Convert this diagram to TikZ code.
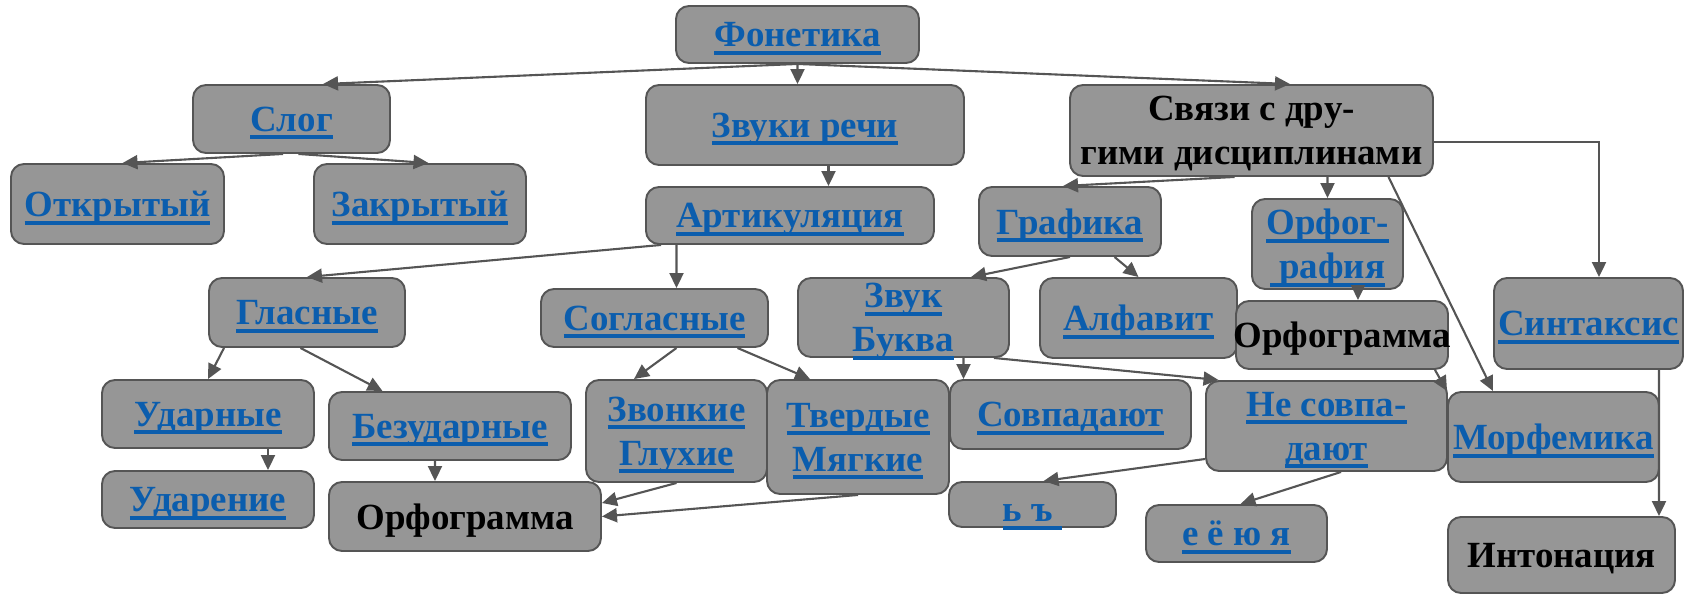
\documentclass[tikz,border=0pt]{standalone}
\usepackage{fontspec}
\setmainfont{Liberation Serif}
\usetikzlibrary{arrows.meta}

\definecolor{boxgray}{RGB}{150,150,150}
\definecolor{edgegray}{RGB}{85,85,85}
\definecolor{linkblue}{RGB}{11,93,173}

% underlined link text, depth hidden so boxes centre on the letters
\newcommand{\linku}[1]{\setbox0=\hbox{#1}%
  \raisebox{0pt}[\height][0pt]{\rlap{\rule[-0.22em]{\wd0}{0.11em}}\copy0}}
\newcommand{\plaintxt}[1]{\raisebox{0pt}[\height][0pt]{#1}}

\tikzset{
    topic/.style={rectangle, rounded corners=0.26cm, fill=boxgray, draw=edgegray,
        line width=1.1pt, inner sep=0pt, align=center,
        font=\fontsize{21}{25}\selectfont\bfseries},
    link/.style={topic, text=linkblue},
    term/.style={topic, text=black},
    conn/.style={draw=edgegray, line width=1.2pt, -{Triangle[length=0.3cm, width=0.28cm]}}
}

\begin{document}
\begin{tikzpicture}
        \useasboundingbox (0,0) rectangle (33.9,-11.9);

        % Top
        \node[link, minimum width=4.86cm, minimum height=1.14cm] (fon) at (15.95,-0.69) {\linku{Фонетика}};

        % Second row
        \node[link, minimum width=3.94cm, minimum height=1.36cm] (slog) at (5.83,-2.38) {\linku{Слог}};
        \node[link, minimum width=6.36cm, minimum height=1.60cm] (zvr) at (16.10,-2.50) {\linku{Звуки речи}};
        \node[term, minimum width=7.26cm, minimum height=1.82cm] (svz) at (25.03,-2.61)
            {\plaintxt{Связи с дру-}\\\plaintxt{гими дисциплинами}};

        % Third row
        \node[link, minimum width=4.26cm, minimum height=1.60cm] (otkr) at (2.35,-4.08) {\linku{Открытый}};
        \node[link, minimum width=4.24cm, minimum height=1.60cm] (zakr) at (8.40,-4.08) {\linku{Закрытый}};
        \node[link, minimum width=5.76cm, minimum height=1.14cm] (art) at (15.80,-4.31) {\linku{Артикуляция}};
        \node[link, minimum width=3.64cm, minimum height=1.38cm] (graf) at (21.40,-4.43) {\linku{Графика}};
        \node[link, minimum width=3.02cm, minimum height=1.80cm] (orfg) at (26.55,-4.88)
            {\linku{Орфог-}\\\linku{\ рафия}};

        % Fourth row
        \node[link, minimum width=3.92cm, minimum height=1.38cm] (glas) at (6.14,-6.25) {\linku{Гласные}};
        \node[link, minimum width=4.54cm, minimum height=1.16cm] (sogl) at (13.09,-6.36) {\linku{Согласные}};
        \node[link, minimum width=4.22cm, minimum height=1.58cm] (zbuk) at (18.07,-6.35)
            {\linku{Звук}\\\linku{Буква}};
        \node[link, minimum width=3.94cm, minimum height=1.60cm] (alf) at (22.77,-6.36) {\linku{Алфавит}};
        \node[term, minimum width=4.24cm, minimum height=1.36cm] (orfm2) at (26.84,-6.70)
            {\makebox[0pt]{\plaintxt{Орфограмма}}};
        \node[link, minimum width=3.78cm, minimum height=1.82cm] (sint) at (31.77,-6.47) {\linku{Синтаксис}};

        % Fifth row
        \node[link, minimum width=4.24cm, minimum height=1.36cm] (udar) at (4.16,-8.28) {\linku{Ударные}};
        \node[link, minimum width=4.84cm, minimum height=1.36cm] (bezud) at (9.00,-8.52) {\linku{Безударные}};
        \node[link, minimum width=3.62cm, minimum height=2.04cm] (zvon) at (13.53,-8.62)
            {\linku{Звонкие}\\\linku{Глухие}};
        \node[link, minimum width=3.64cm, minimum height=2.28cm] (tverd) at (17.16,-8.74)
            {\linku{Твердые}\\\linku{Мягкие}};
        \node[link, minimum width=4.82cm, minimum height=1.38cm] (sovp) at (21.41,-8.29) {\linku{Совпадают}};
        \node[link, minimum width=4.82cm, minimum height=1.80cm] (nesovp) at (26.53,-8.52)
            {\linku{Не совпа-}\\\linku{дают}};
        \node[link, minimum width=4.22cm, minimum height=1.80cm] (morf) at (31.07,-8.74) {\linku{Морфемика}};

        % Bottom row
        \node[link, minimum width=4.24cm, minimum height=1.14cm] (udaren) at (4.16,-9.99) {\linku{Ударение}};
        \node[term, minimum width=5.44cm, minimum height=1.38cm] (orfm1) at (9.30,-10.33) {\plaintxt{Орфограмма}};
        \node[link, minimum width=3.34cm, minimum height=0.90cm] (mzn) at (20.65,-10.09)
            {\raisebox{-0.18cm}[\height][\depth]{\linku{ь ъ~}}};
        \node[link, minimum width=3.62cm, minimum height=1.14cm] (eeyu) at (24.73,-10.67) {\linku{е ё ю я}};
        \node[term, minimum width=4.54cm, minimum height=1.52cm] (inton) at (31.23,-11.10) {\plaintxt{Интонация}};

        % Connectors
        \draw[conn] (fon.south) -- ([xshift=0.63cm]slog.north);
        \draw[conn] (fon.south) -- ([xshift=-0.15cm]zvr.north);
        \draw[conn] (fon.south) -- ([xshift=0.77cm]svz.north);
        \draw[conn] ([xshift=-0.17cm]slog.south) -- ([xshift=0.10cm]otkr.north);
        \draw[conn] ([xshift=0.14cm]slog.south) -- ([xshift=0.17cm]zakr.north);
        \draw[conn] ([xshift=0.47cm]zvr.south) -- ([xshift=0.77cm]art.north);
        \draw[conn] ([xshift=-2.58cm]art.south) -- (glas.north);
        \draw[conn] ([xshift=-2.27cm]art.south) -- ([xshift=0.44cm]sogl.north);
        \draw[conn] ([xshift=-0.34cm]svz.south) -- ([xshift=-0.14cm]graf.north);
        \draw[conn] ([xshift=1.52cm]svz.south) -- (orfg.north);
        \draw[conn] ([xshift=2.74cm]svz.south) -- ([xshift=-1.21cm]morf.north);
        \draw[conn] ([yshift=-0.23cm]svz.east) -| ([xshift=0.21cm]sint.north);
        \draw[conn] (graf.south) -- ([xshift=1.35cm]zbuk.north);
        \draw[conn] ([xshift=0.89cm]graf.south) -- (alf.north);
        \draw[conn] ([xshift=0.61cm]orfg.south) -- ([xshift=0.32cm]orfm2.north);
        \draw[conn] ([xshift=-1.66cm]glas.south) -- (udar.north);
        \draw[conn] ([xshift=-0.13cm]glas.south) -- ([xshift=-1.35cm]bezud.north);
        \draw[conn] ([xshift=0.44cm]sogl.south) -- ([xshift=-0.85cm]zvon.north);
        \draw[conn] ([xshift=1.66cm]sogl.south) -- ([xshift=-0.96cm]tverd.north);
        \draw[conn] ([xshift=1.20cm]zbuk.south) -- ([xshift=-2.14cm]sovp.north);
        \draw[conn] ([xshift=1.81cm]zbuk.south) -- ([xshift=0.27cm]nesovp.north west);
        \draw[conn] ([xshift=-0.28cm]orfm2.south east) -- (morf.north west);
        \draw[conn] ([xshift=1.41cm]sint.south) -- ([xshift=1.95cm]inton.north);
        \draw[conn] ([xshift=1.20cm]udar.south) -- ([xshift=1.20cm]udaren.north);
        \draw[conn] ([xshift=-0.30cm]bezud.south) -- ([xshift=-0.60cm]orfm1.north);
        \draw[conn] (zvon.south) -- ([yshift=0.27cm]orfm1.east);
        \draw[conn] (tverd.south) -- (orfm1.east);
        \draw[conn] ([yshift=-0.66cm]nesovp.west) -- ([xshift=0.22cm]mzn.north);
        \draw[conn] ([xshift=0.29cm]nesovp.south) -- ([xshift=0.08cm]eeyu.north);
    \end{tikzpicture}
\end{document}
